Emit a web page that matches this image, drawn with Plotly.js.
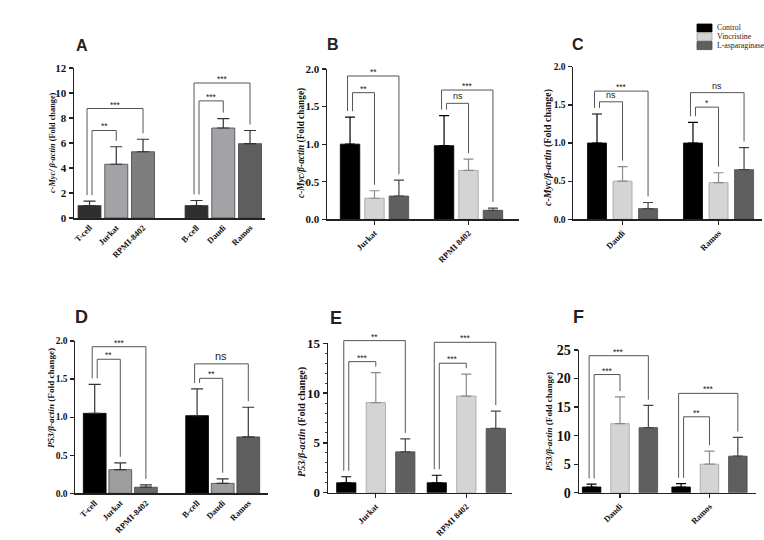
<!DOCTYPE html>
<html><head><meta charset="utf-8">
<script src="https://cdn.plot.ly/plotly-3.0.1.min.js"></script>
<style>html,body{margin:0;padding:0;background:#fff}</style>
</head><body><div id="chart" style="width:764px;height:540px"></div>
<script>
// ---------------- DATA ----------------
const seriesNames = ['Control', 'Vincristine', 'L-asparaginase'];

// Panel A : c-Myc, normal cells vs cell lines
const catsA = ['T-cell', 'Jurkat', 'RPMI-8402', 'B-cell', 'Daudi', 'Ramos'];
const meanA = [1.0, 4.3, 5.3, 1.0, 7.2, 5.95];
const sdA   = [0.35, 1.4, 1.0, 0.4, 0.75, 1.05];
const sigFromA = [0, 0, 3, 3];
const sigToA   = [1, 2, 4, 5];
const sigYA    = [7.0, 8.76, 9.37, 10.8];
const sigTextA = ['**', '***', '***', '***'];

// Panel B : c-Myc, T-ALL lines
const catsB = ['Jurkat', 'RPMI 8402'];
const ctrlB = [1.0, 0.98];  const sdCtrlB = [0.36, 0.40];
const vinB  = [0.28, 0.65]; const sdVinB  = [0.10, 0.15];
const aspB  = [0.31, 0.12]; const sdAspB  = [0.21, 0.03];
const sigGroupB = [0, 0, 1, 1];
const sigToB    = [1, 2, 1, 2];
const sigYB     = [1.685, 1.907, 1.543, 1.72];
const sigTextB  = ['**', '**', 'ns', '***'];

// Panel C : c-Myc, B-cell lines
const catsC = ['Daudi', 'Ramos'];
const ctrlC = [1.0, 1.0];   const sdCtrlC = [0.38, 0.27];
const vinC  = [0.50, 0.48]; const sdVinC  = [0.19, 0.13];
const aspC  = [0.14, 0.65]; const sdAspC  = [0.08, 0.29];
const sigGroupC = [0, 0, 1, 1];
const sigToC    = [1, 2, 1, 2];
const sigYC     = [1.54, 1.68, 1.47, 1.66];
const sigTextC  = ['ns', '***', '*', 'ns'];

// Panel D : P53, normal cells vs cell lines
const catsD = ['T-cell', 'Jurkat', 'RPMI-8402', 'B-cell', 'Daudi', 'Ramos'];
const meanD = [1.05, 0.31, 0.08, 1.02, 0.13, 0.74];
const sdD   = [0.38, 0.09, 0.03, 0.35, 0.06, 0.39];
const sigFromD = [0, 0, 3, 3];
const sigToD   = [1, 2, 4, 5];
const sigYD    = [1.76, 1.925, 1.51, 1.70];
const sigTextD = ['**', '***', '**', 'ns'];

// Panel E : P53, T-ALL lines
const catsE = ['Jurkat', 'RPMI 8402'];
const ctrlE = [1.0, 1.0];   const sdCtrlE = [0.6, 0.75];
const vinE  = [9.05, 9.7];  const sdVinE  = [3.0, 2.2];
const aspE  = [4.1, 6.45];  const sdAspE  = [1.3, 1.75];
const sigGroupE = [0, 0, 1, 1];
const sigToE    = [1, 2, 1, 2];
const sigYE     = [13.16, 15.27, 13.0, 15.1];
const sigTextE  = ['***', '**', '***', '***'];

// Panel F : P53, B-cell lines
const catsF = ['Daudi', 'Ramos'];
const ctrlF = [1.0, 1.0];   const sdCtrlF = [0.5, 0.6];
const vinF  = [12.1, 5.0];  const sdVinF  = [4.7, 2.3];
const aspF  = [11.4, 6.4];  const sdAspF  = [3.9, 3.3];
const sigGroupF = [0, 0, 1, 1];
const sigToF    = [1, 2, 1, 2];
const sigYF     = [20.7, 24.0, 13.3, 17.4];
const sigTextF  = ['***', '***', '**', '***'];

// ---------------- STYLE / LAYOUT ----------------
const W = 764, H = 540;
const px = x => x / W;
const py = y => 1 - y / H;
const SERIF = "'Liberation Serif', 'Times New Roman', serif";
const SANS = "'Liberation Sans', Arial, sans-serif";

const seriesColors = ['#000000', '#d4d4d4', '#5f5f5f'];
const seriesLines  = ['#000000', '#a0a0a0', '#4a4a4a'];
const seriesErr    = ['#000000', '#8a8a8a', '#444444'];
const colorsA = ['#2e2e2e', '#a3a3a7', '#7d7d7d', '#2e2e2e', '#a3a3a7', '#5e5e5e'];
const colorsD = ['#000000', '#9d9d9d', '#6a6a6a', '#000000', '#9d9d9d', '#5e5e5e'];

const myc = '<b><i>c-Myc/ β-actin</i> (Fold change)</b>';
const myc2 = '<b><i>c-Myc/β-actin</i> (Fold change)</b>';
const p53 = '<b><i>P53/β-actin</i> (Fold change)</b>';

const panels = [
  {key:'A', n:1, kind:'single', x0:74,  x1:265, yT:68,  yB:218,   xr:[-0.58,6.56], yr:[0,12], dt:2,   dec:0, tfs:11,
   cats:catsA, mean:meanA, sd:sdA, colors:colorsA, bw:0.86, from:sigFromA, to:sigToA, sy:sigYA, st:sigTextA,
   title:myc, tx:52, ty:143, tlen:100, lx:81.5, ly:45, lsz:16},
  {key:'B', n:2, kind:'group', x0:327, x1:519, yT:69,  yB:219.3, xr:[-0.505,1.537], yr:[0,2], dt:0.5, dec:1, tfs:11,
   cats:catsB, ser:[ctrlB,vinB,aspB], sds:[sdCtrlB,sdVinB,sdAspB], sp:0.26, bw:0.207, grp:sigGroupB, to:sigToB, sy:sigYB, st:sigTextB,
   title:myc2, tx:301, ty:143, tlen:110, lx:333, ly:44, lsz:16},
  {key:'C', n:3, kind:'group', x0:573, x1:762, yT:66.7, yB:219.3, xr:[-0.516,1.453], yr:[0,2], dt:0.5, dec:1, tfs:9.5,
   cats:catsC, ser:[ctrlC,vinC,aspC], sds:[sdCtrlC,sdVinC,sdAspC], sp:0.266, bw:0.198, grp:sigGroupC, to:sigToC, sy:sigYC, st:sigTextC,
   title:myc2, tx:548, ty:148, tlen:117, lx:578, ly:44, lsz:16},
  {key:'D', n:4, kind:'single', x0:75,  x1:268, yT:341, yB:493.3, xr:[-0.77,6.77], yr:[0,2], dt:0.5, dec:1, tfs:9.5,
   cats:catsD, mean:meanD, sd:sdD, colors:colorsD, bw:0.89, from:sigFromD, to:sigToD, sy:sigYD, st:sigTextD,
   title:p53, tx:51, ty:398, tlen:100, lx:81, ly:317, lsz:18},
  {key:'E', n:5, kind:'group', x0:328, x1:512, yT:343.3, yB:492.7, xr:[-0.528,1.505], yr:[0,15], dt:5, dec:0, tfs:13,
   cats:catsE, ser:[ctrlE,vinE,aspE], sds:[sdCtrlE,sdVinE,sdAspE], sp:0.326, bw:0.213, grp:sigGroupE, to:sigToE, sy:sigYE, st:sigTextE,
   title:p53, tx:302, ty:422, tlen:110, lx:335.5, ly:318, lsz:18, minor:true},
  {key:'F', n:6, kind:'group', x0:579, x1:756, yT:350, yB:492.7, xr:[-0.458,1.52], yr:[0,25], dt:5, dec:0, tfs:14,
   cats:catsF, ser:[ctrlF,vinF,aspF], sds:[sdCtrlF,sdVinF,sdAspF], sp:0.317, bw:0.207, grp:sigGroupF, to:sigToF, sy:sigYF, st:sigTextF,
   title:p53, tx:549, ty:422, tlen:99, lx:578.5, ly:317, lsz:18}
];

const data = [];
const shapes = [];
const annotations = [];
const titleIdx = [];
const layout = {
  width: W, height: H, margin: {l:0, r:0, t:0, b:0},
  paper_bgcolor: '#ffffff', plot_bgcolor: 'rgba(0,0,0,0)',
  showlegend: false, barmode: 'overlay',
  font: {family: SERIF, color: '#111'}
};

panels.forEach(p => {
  const sfx = p.n === 1 ? '' : String(p.n);
  const xa = 'x' + sfx, ya = 'y' + sfx;
  const yd = [py(p.yB), py(p.yT)];
  const yPaper = v => yd[0] + (v - p.yr[0]) / (p.yr[1] - p.yr[0]) * (yd[1] - yd[0]);
  const unitPx = (p.x1 - p.x0) / (p.xr[1] - p.xr[0]);
  const d = 2.5 / unitPx;
  const gap = 0.04 * p.yr[1];

  let tickvals, pos = [], tops = [];
  if (p.kind === 'single') {
    pos = p.cats.map((c, i) => i + Math.floor(i / 3));
    tickvals = pos;
    tops = p.mean.map((m, i) => m + p.sd[i]);
    data.push({
      type: 'bar', x: pos, y: p.mean, width: p.bw, xaxis: xa, yaxis: ya,
      marker: {color: p.colors, line: {color: p.colors.map(c => c === '#000000' ? '#000' : '#444'), width: 0.8}},
      error_y: {type: 'data', symmetric: false, array: p.sd, arrayminus: p.sd.map(() => 0),
                color: '#333', thickness: 1.2, width: 6},
      hoverinfo: 'skip'
    });
  } else {
    const gpos = p.cats.map((c, i) => i);
    tickvals = gpos;
    p.ser.forEach((vals, s) => {
      data.push({
        type: 'bar', name: seriesNames[s], x: gpos.map(g => g + (s - 1) * p.sp), y: vals, width: p.bw,
        xaxis: xa, yaxis: ya,
        marker: {color: seriesColors[s], line: {color: seriesLines[s], width: 0.8}},
        error_y: {type: 'data', symmetric: false, array: p.sds[s], arrayminus: p.sds[s].map(() => 0),
                  color: seriesErr[s], thickness: 1.2, width: 5},
        hoverinfo: 'skip'
      });
    });
  }

  layout['xaxis' + sfx] = {
    domain: [px(p.x0), px(p.x1)], range: p.xr, anchor: ya, showline: true, linecolor: '#222', linewidth: 1.5,
    tickmode: 'array', tickvals: tickvals, ticktext: p.cats.map(c => '<b>' + c + '</b>'), tickangle: -45,
    ticks: p.kind === 'group' ? 'outside' : '', ticklen: 4, tickwidth: 1.3, tickcolor: '#222',
    showgrid: false, zeroline: false, fixedrange: true,
    tickfont: {family: SERIF, size: 8.5, color: '#111'}
  };
  const yvals = [];
  for (let v = p.yr[0]; v <= p.yr[1] + 1e-9; v += p.dt) yvals.push(+v.toFixed(3));
  const yax = {
    domain: yd, range: p.yr, anchor: xa, showline: true, linecolor: '#222', linewidth: 1.5,
    tickmode: 'array', tickvals: yvals, ticktext: yvals.map(v => '<b>' + v.toFixed(p.dec) + '</b>'),
    ticks: 'outside', ticklen: 4, tickwidth: 1.3, tickcolor: '#222',
    showgrid: false, zeroline: false, fixedrange: true,
    tickfont: {family: SERIF, size: p.tfs, color: '#111'}
  };
  if (p.minor) yax.minor = {ticks: 'outside', dtick: 1, tick0: 0, ticklen: 2, tickcolor: '#444', tickwidth: 1, showgrid: false};
  layout['yaxis' + sfx] = yax;

  // significance brackets
  for (let k = 0; k < p.st.length; k++) {
    let xaPos, xbPos, topA, topB, outer;
    if (p.kind === 'single') {
      const a = p.from[k], b = p.to[k];
      outer = (b - a) === 2;
      xaPos = pos[a]; xbPos = pos[b]; topA = tops[a]; topB = tops[b];
    } else {
      const g = p.grp[k], t = p.to[k];
      outer = t === 2;
      xaPos = g - p.sp; xbPos = g + (t - 1) * p.sp;
      topA = p.ser[0][g] + p.sds[0][g];
      topB = p.ser[t][g] + p.sds[t][g];
    }
    const xl = xaPos + (outer ? -d : d);
    const h = p.sy[k];
    const line = {color: '#555', width: 1};
    shapes.push({type: 'line', xref: xa, yref: 'paper', x0: xl, x1: xl, y0: yPaper(topA + gap), y1: yPaper(h), line});
    shapes.push({type: 'line', xref: xa, yref: 'paper', x0: xl, x1: xbPos, y0: yPaper(h), y1: yPaper(h), line});
    shapes.push({type: 'line', xref: xa, yref: 'paper', x0: xbPos, x1: xbPos, y0: yPaper(h), y1: yPaper(topB + gap), line});
    const isNs = p.st[k] === 'ns';
    annotations.push({
      xref: xa, yref: 'paper', x: (xl + xbPos) / 2, y: yPaper(h), yanchor: 'bottom', xanchor: 'center',
      text: p.st[k], showarrow: false, yshift: isNs ? 0 : -3,
      font: {family: SANS, size: isNs ? (p.key === 'D' ? 11 : 9) : 8.5, color: '#222'}
    });
  }

  // y title
  titleIdx.push({i: annotations.length, len: p.tlen});
  annotations.push({xref: 'paper', yref: 'paper', x: px(p.tx), y: py(p.ty), xanchor: 'center', yanchor: 'middle',
    text: p.title, textangle: -90, showarrow: false, font: {family: SERIF, size: 8, color: '#111'}});
  // panel letter
  annotations.push({xref: 'paper', yref: 'paper', x: px(p.lx), y: py(p.ly), xanchor: 'center', yanchor: 'middle',
    text: '<b>' + p.key + '</b>', showarrow: false, font: {family: SANS, size: p.lsz, color: '#222'}});
});

// legend (drawn manually)
seriesNames.forEach((nm, i) => {
  const yc = 28 + i * 8.8;
  shapes.push({type: 'rect', xref: 'paper', yref: 'paper', x0: px(697), x1: px(712), y0: py(yc + 4), y1: py(yc - 4),
    fillcolor: seriesColors[i], line: {color: seriesLines[i], width: 0.8}});
  annotations.push({xref: 'paper', yref: 'paper', x: px(715), y: py(yc), xanchor: 'left', yanchor: 'middle',
    text: nm, showarrow: false, font: {family: SERIF, size: 7.8, color: '#222'}});
});

layout.shapes = shapes;
layout.annotations = annotations;

Plotly.newPlot('chart', data, layout, {staticPlot: true, displayModeBar: false}).then(gd => {
  // fit the rotated axis titles to their measured length in the reference
  const upd = {};
  titleIdx.forEach(t => {
    const el = gd.querySelector('.annotation[data-index="' + t.i + '"] .annotation-text');
    if (!el) return;
    const L = el.getComputedTextLength();
    if (L > 0) upd['annotations[' + t.i + '].font.size'] = Math.round(80 * t.len / L) / 10;
  });
  if (Object.keys(upd).length) Plotly.relayout(gd, upd);
});
</script>
</body></html>
